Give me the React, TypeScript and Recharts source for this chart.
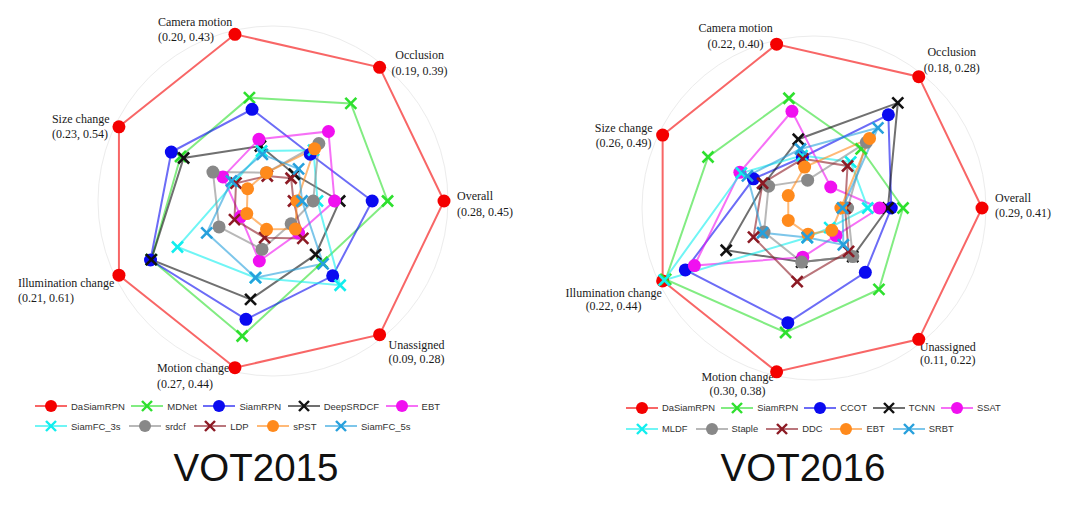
import React from 'react';
import { RadarChart, Radar, PolarGrid, PolarAngleAxis, PolarRadiusAxis, Legend } from 'recharts';

// ---------- DATA ----------
const categories = ['Overall', 'Occlusion', 'Camera motion', 'Size change', 'Illumination change', 'Motion change', 'Unassigned'];
const ranges2015 = ['(0.28, 0.45)', '(0.19, 0.39)', '(0.20, 0.43)', '(0.23, 0.54)', '(0.21, 0.61)', '(0.27, 0.44)', '(0.09, 0.28)'];
const ranges2016 = ['(0.29, 0.41)', '(0.18, 0.28)', '(0.22, 0.40)', '(0.26, 0.49)', '(0.22, 0.44)', '(0.30, 0.38)', '(0.11, 0.22)'];

// VOT2015 (normalised per attribute, order = categories)
const daSiamRPN15 = [1, 1, 1, 1, 1, 1, 1];
const mdnet15 = [0.67, 0.73, 0.62, 0.6, 0.79, 0.81, 0.46];
const siamRPN15 = [0.58, 0.35, 0.55, 0.66, 0.795, 0.71, 0.56];
const deepSRDCF15 = [0.39, 0.2, 0.33, 0.58, 0.79, 0.59, 0.4];
const ebt15 = [0.36, 0.52, 0.37, 0.325, 0.21, 0.36, 0.24];
const siamFC3s15 = [0.26, 0.38, 0.3, 0.25, 0.62, 0.46, 0.63];
const srdcf15 = [0.235, 0.43, 0.17, 0.39, 0.35, 0.29, 0.17];
const ldp15 = [0.12, 0.17, 0.15, 0.24, 0.25, 0.22, 0.28];
const sPST15 = [0.14, 0.39, 0.17, 0.165, 0.17, 0.17, 0.21];
const siamFC5s15 = [0.17, 0.24, 0.28, 0.27, 0.43, 0.46, 0.47];

// VOT2016
const daSiamRPN16 = [1, 1, 1, 1, 1, 1, 1];
const siamRPN16 = [0.53, 0.45, 0.67, 0.7, 0.98, 0.76, 0.62];
const ccot16 = [0.46, 0.71, 0.31, 0.4, 0.85, 0.7, 0.49];
const tcnn16 = [0.44, 0.8, 0.42, 0.33, 0.58, 0.33, 0.37];
const ssat16 = [0.39, 0.16, 0.59, 0.49, 0.79, 0.3, 0.21];
const mldf16 = [0.32, 0.35, 0.32, 0.48, 0.99, 0.18, 0.15];
const staple16 = [0.2, 0.5, 0.17, 0.3, 0.33, 0.33, 0.37];
const ddc16 = [0.185, 0.32, 0.3, 0.34, 0.4, 0.45, 0.33];
const ebt16 = [0.16, 0.53, 0.25, 0.17, 0.17, 0.16, 0.17];
const srbt16 = [0.17, 0.61, 0.36, 0.44, 0.34, 0.18, 0.28];

// ---------- STYLE ----------
const C = {
  red: '#f40000',
  green: '#2ee02e',
  blue: '#0a0af0',
  black: '#111111',
  magenta: '#f010f0',
  cyan: '#11eeee',
  gray: '#888888',
  darkred: '#8c1a24',
  orange: '#ff8a1c',
  steel: '#27a0dc',
};

type Shape = 'circle' | 'x';
interface Series { name: string; values: number[]; color: string; shape: Shape }

const series2015: Series[] = [
  { name: 'DaSiamRPN', values: daSiamRPN15, color: C.red, shape: 'circle' },
  { name: 'MDNet', values: mdnet15, color: C.green, shape: 'x' },
  { name: 'SiamRPN', values: siamRPN15, color: C.blue, shape: 'circle' },
  { name: 'DeepSRDCF', values: deepSRDCF15, color: C.black, shape: 'x' },
  { name: 'EBT', values: ebt15, color: C.magenta, shape: 'circle' },
  { name: 'SiamFC_3s', values: siamFC3s15, color: C.cyan, shape: 'x' },
  { name: 'srdcf', values: srdcf15, color: C.gray, shape: 'circle' },
  { name: 'LDP', values: ldp15, color: C.darkred, shape: 'x' },
  { name: 'sPST', values: sPST15, color: C.orange, shape: 'circle' },
  { name: 'SiamFC_5s', values: siamFC5s15, color: C.steel, shape: 'x' },
];

const series2016: Series[] = [
  { name: 'DaSiamRPN', values: daSiamRPN16, color: C.red, shape: 'circle' },
  { name: 'SiamRPN', values: siamRPN16, color: C.green, shape: 'x' },
  { name: 'CCOT', values: ccot16, color: C.blue, shape: 'circle' },
  { name: 'TCNN', values: tcnn16, color: C.black, shape: 'x' },
  { name: 'SSAT', values: ssat16, color: C.magenta, shape: 'circle' },
  { name: 'MLDF', values: mldf16, color: C.cyan, shape: 'x' },
  { name: 'Staple', values: staple16, color: C.gray, shape: 'circle' },
  { name: 'DDC', values: ddc16, color: C.darkred, shape: 'x' },
  { name: 'EBT', values: ebt16, color: C.orange, shape: 'circle' },
  { name: 'SRBT', values: srbt16, color: C.steel, shape: 'x' },
];

interface LabelLayout { dx: number; dy1: number; dy2: number; anchor: 'start' | 'middle' | 'end' }

const layout2015: LabelLayout[] = [
  { dx: 13, dy1: -1, dy2: 15, anchor: 'start' },
  { dx: 40, dy1: -8, dy2: 8, anchor: 'middle' },
  { dx: -77, dy1: -8, dy2: 7, anchor: 'start' },
  { dx: -67, dy1: -4, dy2: 11, anchor: 'start' },
  { dx: -101, dy1: 12, dy2: 27, anchor: 'start' },
  { dx: -78, dy1: 4, dy2: 20, anchor: 'start' },
  { dx: 37, dy1: 14, dy2: 28, anchor: 'middle' },
];

const layout2016: LabelLayout[] = [
  { dx: 13, dy1: -6, dy2: 9, anchor: 'start' },
  { dx: 33, dy1: -21, dy2: -5, anchor: 'middle' },
  { dx: -41, dy1: -12, dy2: 4, anchor: 'middle' },
  { dx: -39, dy1: -3, dy2: 12, anchor: 'middle' },
  { dx: -49, dy1: 16, dy2: 29, anchor: 'middle' },
  { dx: -39, dy1: 9, dy2: 23, anchor: 'middle' },
  { dx: 29, dy1: 12, dy2: 25, anchor: 'middle' },
];

const STEP = 360 / categories.length;

const buildRows = (list: Series[]) =>
  categories.map((axis, i) => {
    const row: Record<string, any> = { axis };
    list.forEach((s) => {
      row[s.name] = s.values[i];
    });
    return row;
  });

const Marker = ({ cx, cy, color, shape, r = 6.5, h = 5.5, sw = 2.6 }: any) => {
  if (shape === 'circle') return <circle cx={cx} cy={cy} r={r} fill={color} />;
  return (
    <g>
      <line x1={cx - h} y1={cy - h} x2={cx + h} y2={cy + h} stroke={color} strokeWidth={sw} />
      <line x1={cx - h} y1={cy + h} x2={cx + h} y2={cy - h} stroke={color} strokeWidth={sw} />
    </g>
  );
};

const makeTick = (ranges: string[], layout: LabelLayout[], cx: number, cy: number, R: number) => (props: any) => {
  const { payload } = props;
  const i = categories.indexOf(payload.value);
  const ang = (i * STEP * Math.PI) / 180;
  const vx = cx + R * Math.cos(ang);
  const vy = cy - R * Math.sin(ang);
  const l = layout[i];
  const style = { fontFamily: '"Liberation Serif", "Times New Roman", serif', fontSize: 12, fill: '#1a1a1a' };
  return (
    <g>
      <text x={vx + l.dx} y={vy + l.dy1} textAnchor={l.anchor} style={style}>{payload.value}</text>
      <text x={vx + l.dx} y={vy + l.dy2} textAnchor={l.anchor} style={style}>{ranges[i]}</text>
    </g>
  );
};

const LegendBox = ({ list, rowH, gaps, fontSize }: { list: Series[]; rowH: number; gaps: number[]; fontSize: number }) => {
  const rows = [list.slice(0, 5), list.slice(5)];
  return (
    <div style={{ fontFamily: '"Liberation Sans", Arial, sans-serif', fontSize, color: '#333' }}>
      {rows.map((row, ri) => (
        <div key={ri} style={{ display: 'flex', alignItems: 'center', height: rowH, whiteSpace: 'nowrap' }}>
          {row.map((s) => (
            <div key={s.name} style={{ display: 'flex', alignItems: 'center', marginRight: gaps[ri] }}>
              <svg width={32} height={16} style={{ display: 'block' }}>
                <line x1={0} y1={8} x2={32} y2={8} stroke={s.color} strokeOpacity={0.6} strokeWidth={2} />
                <Marker cx={16} cy={8} color={s.color} shape={s.shape} r={6} h={5} sw={2.4} />
              </svg>
              <span style={{ marginLeft: 4 }}>{s.name}</span>
            </div>
          ))}
        </div>
      ))}
    </div>
  );
};

const Panel = ({ list, ranges, layout, width, cx, cy, R, legendLeft, legendTop, rowH, gaps, legendFont }: any) => {
  const data = buildRows(list);
  return (
    <RadarChart
      width={width}
      height={512}
      data={data}
      cx={cx}
      cy={cy}
      outerRadius={R}
      startAngle={-STEP}
      endAngle={360 - STEP}
      margin={{ top: 0, right: 0, bottom: 0, left: 0 }}
    >
      <PolarGrid gridType="circle" radialLines={false} polarRadius={[R + 4]} stroke="#ececec" strokeWidth={1} />
      <PolarAngleAxis dataKey="axis" tick={makeTick(ranges, layout, cx, cy, R)} tickLine={false} axisLine={false} />
      <PolarRadiusAxis domain={[0, 1]} tick={false} axisLine={false} />
      {list.map((s: Series) => (
        <Radar
          key={s.name}
          name={s.name}
          dataKey={s.name}
          stroke={s.color}
          strokeOpacity={0.6}
          strokeWidth={2}
          fill="none"
          fillOpacity={0}
          isAnimationActive={false}
          dot={(p: any) => <Marker key={`${s.name}-${p.index}`} cx={p.cx} cy={p.cy} color={s.color} shape={s.shape} />}
        />
      ))}
      <Legend
        content={() => <LegendBox list={list} rowH={rowH} gaps={gaps} fontSize={legendFont} />}
        wrapperStyle={{ left: legendLeft, top: legendTop, width: 480, bottom: 'auto' }}
      />
    </RadarChart>
  );
};

export default function App() {
  const titleStyle: React.CSSProperties = {
    position: 'absolute',
    top: 443,
    fontFamily: '"Liberation Sans", Arial, sans-serif',
    fontSize: 38.5,
    color: '#111',
    width: 300,
    textAlign: 'center',
    lineHeight: '50px',
  };
  return (
    <div style={{ position: 'absolute', left: 0, top: 0, width: 1069, height: 512, background: '#fff', overflow: 'hidden' }}>
      <div style={{ position: 'absolute', left: 0, top: 0 }}>
        <Panel list={series2015} ranges={ranges2015} layout={layout2015} width={540} cx={273} cy={201} R={171}
          legendLeft={35} legendTop={396} rowH={20} gaps={[6.5, 8.5]} legendFont={9.5} />
      </div>
      <div style={{ position: 'absolute', left: 540, top: 0 }}>
        <Panel list={series2016} ranges={ranges2016} layout={layout2016} width={529} cx={274} cy={208} R={168}
          legendLeft={86} legendTop={397} rowH={21} gaps={[6, 8]} legendFont={9.4} />
      </div>
      <div style={{ ...titleStyle, left: 256 - 150 }}>VOT2015</div>
      <div style={{ ...titleStyle, left: 803 - 150 }}>VOT2016</div>
    </div>
  );
}
